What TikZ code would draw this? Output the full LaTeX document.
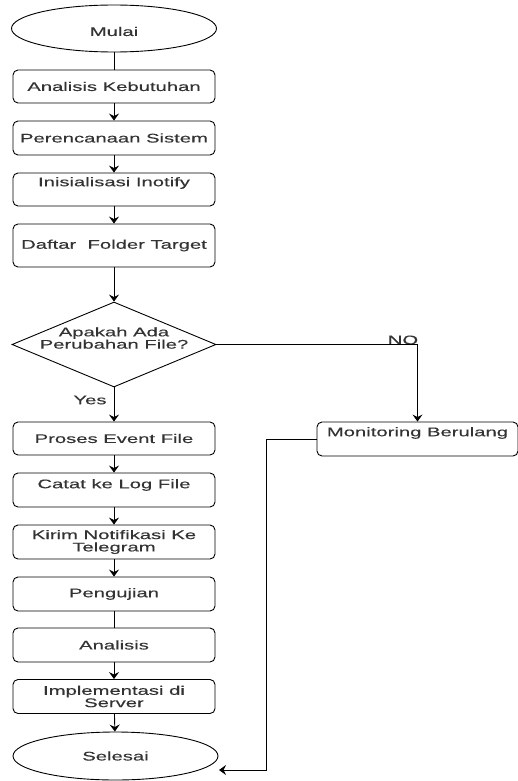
\documentclass[tikz,border=0pt]{standalone}
\usepackage{fontspec}
\setmainfont[FakeStretch=1.62,FakeBold=0.3]{Liberation Sans}
\usetikzlibrary{shapes.geometric,arrows.meta}
\begin{document}
\begin{tikzpicture}[x=1pt,y=-1pt,
  every node/.style={font=\fontsize{12.5}{12.3}\selectfont, text=black!80},
  box/.style={draw=black, line width=0.9pt, rounded corners=5pt, minimum width=202pt, minimum height=34pt, inner sep=0pt, align=center},
  ell/.style={draw=black, ellipse, line width=0.9pt, minimum width=205pt, minimum height=48pt, inner sep=0pt},
  dec/.style={draw=black, diamond, line width=0.9pt, minimum width=204pt, minimum height=85pt, inner sep=0pt, aspect=2.4},
  arr/.style={line width=0.9pt, -{Stealth[length=7pt,width=10pt,inset=2.5pt]}},
  ln/.style={line width=0.9pt},
  lbl/.style={inner sep=0pt}]
\useasboundingbox (0,0) rectangle (518,781);
% nodes
\node[ell, minimum height=47pt, label={[lbl,yshift=-3pt]center:Mulai}] (mulai) at (114,28.5) {};
\node[box, minimum height=33pt] (an) at (114,86.5) {Analisis Kebutuhan};
\node[box] (per) at (114,138) {Perencanaan Sistem};
\node[box, minimum height=33pt, label={[lbl,yshift=6.5pt]center:Inisialisasi Inotify}] (ini) at (114,189.5) {};
\node[box, minimum height=43pt] (daf) at (114,245.5) {Daftar\ \ Folder Target};
\node[dec] (dec) at (114,344.5) {};
\node[lbl, align=center] (dect) at (114,338) {Apakah Ada\\Perubahan File?};
\node[box, minimum height=33pt] (pro) at (114,438.5) {Proses Event File};
\node[box, minimum width=201pt, label={[lbl,yshift=6pt]center:Monitoring Berulang}] (mon) at (417.5,439) {};
\node[box, label={[lbl,yshift=5pt]center:Catat ke Log File}] (cat) at (114,490) {};
\node[box] (kir) at (114,542) {Kirim Notifikasi Ke\\Telegram};
\node[box] (pen) at (114,594) {Pengujian};
\node[box] (ana) at (114,645) {Analisis};
\node[box] (imp) at (114,696.5) {Implementasi di\\Server};
\node[ell] (sel) at (115.5,756) {Selesai};
\node[lbl] (yes) at (90,400) {Yes};
\node[lbl] (no) at (403,340) {NO};
\coordinate (c1) at (266,770);
\coordinate (selin) at (219,770);
% connectors
\draw[ln] (mulai) -- (an);
\draw[arr] (an) -- (per);
\draw[arr] (per) -- (ini);
\draw[arr] (ini) -- (daf);
\draw[arr] (daf) -- (dec);
\draw[arr] (dec) -- (pro);
\draw[arr] (dec.east) -| (mon.north);
\draw[arr] (pro) -- (cat);
\draw[arr] (cat) -- (kir);
\draw[arr] (kir) -- (pen);
\draw[ln] (pen) -- (ana);
\draw[arr] (ana) -- (imp);
\draw[arr] (imp) -- (sel);
\draw[arr] (mon.west) -| (c1) -- (selin);
\end{tikzpicture}
\end{document}
